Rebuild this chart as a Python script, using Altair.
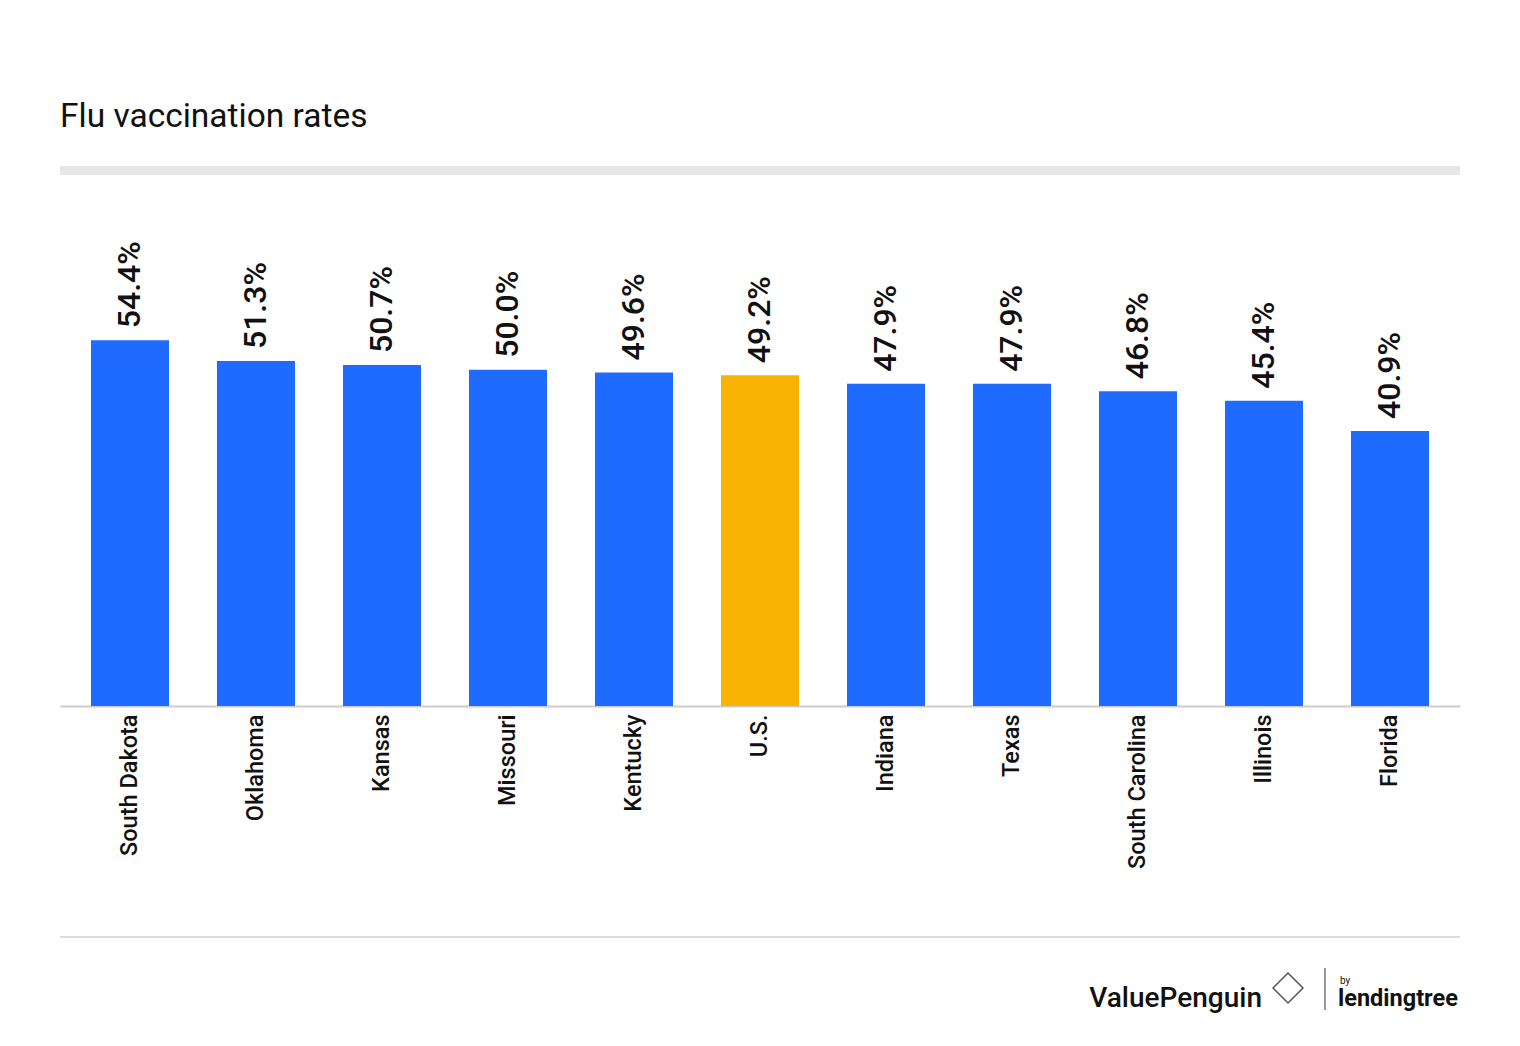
import altair as alt
import pandas as pd

states = ["South Dakota", "Oklahoma", "Kansas", "Missouri", "Kentucky", "U.S.",
          "Indiana", "Texas", "South Carolina", "Illinois", "Florida"]
rates = [54.4, 51.3, 50.7, 50.0, 49.6, 49.2, 47.9, 47.9, 46.8, 45.4, 40.9]
highlight = "U.S."
title_text = "Flu vaccination rates"

df = pd.DataFrame({"state": states, "rate": rates})
one = pd.DataFrame({"k": [0]})

W, H = 1400, 538
FONT = "Roboto"

x_enc = alt.X("state:N", sort=None, title=None,
              scale=alt.Scale(paddingInner=0.381, paddingOuter=0.246),
              axis=alt.Axis(labelAngle=-90, labelFontSize=23.5, labelFontWeight=500,
                            labelColor="#111111", labelFont=FONT, labelPadding=8,
                            ticks=False, domainColor="#cccccc", domainWidth=2,
                            grid=False))
y_enc = alt.Y("rate:Q", scale=alt.Scale(domain=[0, 80], nice=False), axis=None)

bars = alt.Chart(df).mark_bar().encode(
    x=x_enc, y=y_enc,
    color=alt.condition(alt.datum.state == highlight,
                        alt.value("#f9b305"), alt.value("#1f6bff")),
)

labels = alt.Chart(df).transform_calculate(
    label="format(datum.rate, '.1f') + '%'"
).mark_text(angle=270, align="left", baseline="middle", dx=12,
            fontSize=32, font=FONT, fontWeight=500, color="#111111").encode(
    x=alt.X("state:N", sort=None), y=alt.Y("rate:Q"), text="label:N"
)

title = alt.Chart(one).mark_text(align="left", baseline="alphabetic", fontSize=33.5,
                                 font=FONT, color="#111111").encode(
    x=alt.value(0), y=alt.value(-41), text=alt.value(title_text))

top_band = alt.Chart(one).mark_rule(color="#e6e6e6", strokeWidth=9).encode(
    x=alt.value(0), x2=alt.value(W), y=alt.value(2.5))

bottom_line = alt.Chart(one).mark_rule(color="#dddddd", strokeWidth=2).encode(
    x=alt.value(0), x2=alt.value(W), y=alt.value(769))

vp_text = alt.Chart(one).mark_text(align="right", baseline="alphabetic", fontSize=28,
                                   font=FONT, fontWeight=500, color="#111111").encode(
    x=alt.value(1202), y=alt.value(839), text=alt.value("ValuePenguin"))

vp_icon = alt.Chart(one).mark_point(shape="diamond", filled=False, size=900,
                                    color="#111111", strokeWidth=1.5).encode(
    x=alt.value(1228), y=alt.value(820))

sep = alt.Chart(one).mark_rule(color="#333333", strokeWidth=1).encode(
    x=alt.value(1265), y=alt.value(800), y2=alt.value(842))

by_text = alt.Chart(one).mark_text(align="left", baseline="alphabetic", fontSize=10,
                                   font=FONT, color="#111111").encode(
    x=alt.value(1280), y=alt.value(816), text=alt.value("by"))

lt_text = alt.Chart(one).mark_text(align="left", baseline="alphabetic", fontSize=23.5,
                                   font=FONT, fontWeight="bold", color="#111111").encode(
    x=alt.value(1278), y=alt.value(838), text=alt.value("lendingtree"))

chart = alt.layer(top_band, bars, labels, title, bottom_line, vp_text, vp_icon,
                  sep, by_text, lt_text).properties(
    width=W, height=H,
    background="white",
    autosize=alt.AutoSizeParams(type="none"),
    padding={"left": 52, "right": 52, "top": 160, "bottom": 332},
).configure_view(strokeWidth=0, stroke=None)

chart.save("out.html", embed_options={"renderer": "svg", "actions": False})
